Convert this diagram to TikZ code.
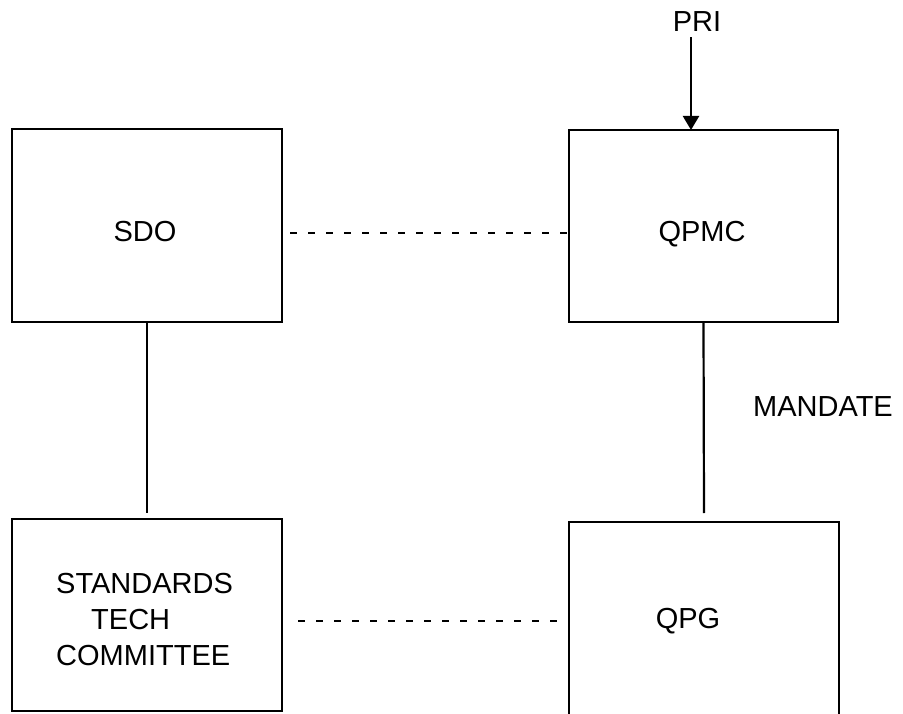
\documentclass[tikz,border=0pt]{standalone}
\usepackage{fontspec}
\setmainfont{Liberation Sans}
\usetikzlibrary{arrows.meta,calc}
\begin{document}
\begin{tikzpicture}[x=1pt,y=-1pt,
  box/.style={draw, line width=2.2pt, inner sep=0pt, outer sep=0pt, minimum width=#1},
  box/.default=270pt,
  txt/.style={inner sep=0pt, font=\fontsize{29}{36}\selectfont},
  conn/.style={line width=2.2pt},
  dashconn/.style={line width=2.2pt, dash pattern=on 7pt off 11pt},
  arr/.style={line width=2.2pt, -{Triangle[width=16pt,length=14pt]}}]
\useasboundingbox (0,0) rectangle (903,714);
\clip (0,0) rectangle (903,714);
% boxes
\node[box, minimum height=193pt] (sdo) at (147,225.5) {};
\node[box=269pt, minimum height=192pt] (qpmc) at (703.5,226) {};
\node[box, minimum height=192pt] (stc) at (147,615) {};
\node[box, minimum height=200pt] (qpg) at (704,622) {};
% texts
\node[txt] (sdot) at ($(sdo.center)+(-2,6.5)$) {SDO};
\node[txt] (qpmct) at ($(qpmc.center)+(-1.5,8.5)$) {QPMC};
\node[txt, align=left, anchor=west] (stct) at (56,620) {STANDARDS\\\hspace*{35pt}TECH\\COMMITTEE};
\node[txt] (qpgt) at ($(qpg.center)+(-16,-1)$) {QPG};
\node[txt] (pri) at (697,22) {PRI};
\node[txt] (mandate) at (823,407) {MANDATE};
% connectors
\coordinate (pris) at ($(pri.south)+(-6,5)$);
\draw[arr] (pris) -- (pris |- qpmc.north);
\draw[conn] (sdo.south) -- ($(stc.north)+(0,-6)$);
\draw[conn] (qpmc.south) -- ($(qpg.north)+(0,-9)$);
\draw[dashconn] ($(sdo.east)+(8,7.5)$) -- ($(qpmc.west |- sdo.east)+(-2,7.5)$);
\draw[dashconn] ($(stc.east)+(16,6)$) -- ($(qpg.west |- stc.east)+(-12,6)$);
\end{tikzpicture}
\end{document}
